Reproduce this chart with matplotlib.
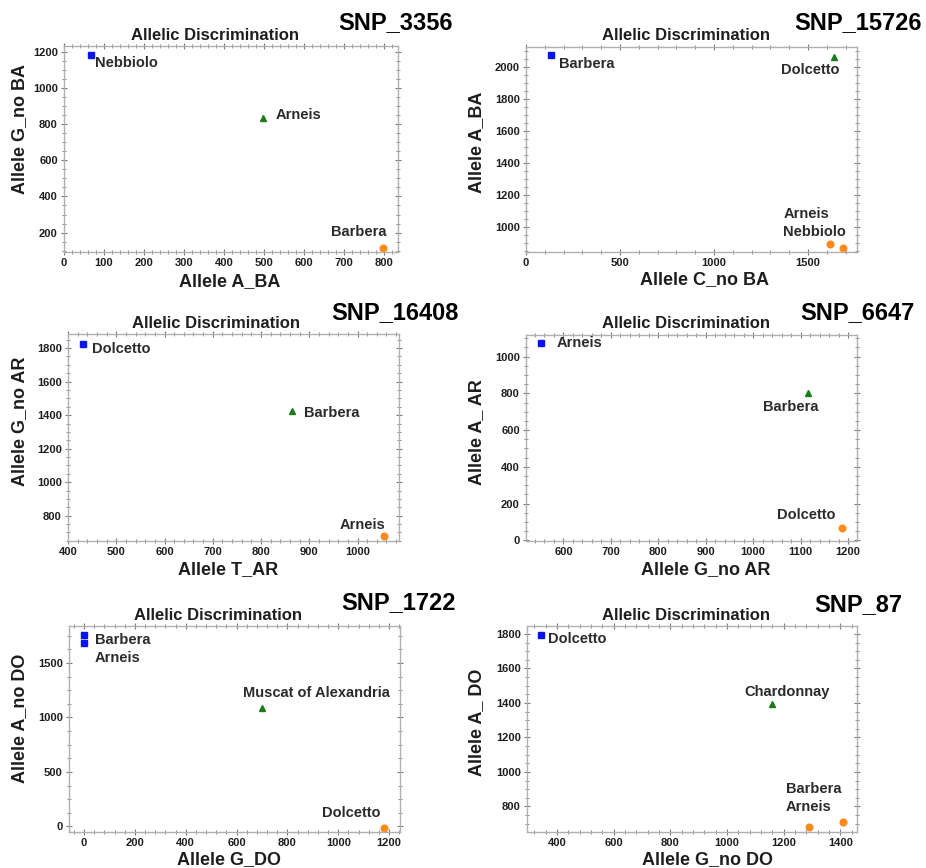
import matplotlib
matplotlib.use("Agg")
import matplotlib.pyplot as plt
from matplotlib.ticker import MultipleLocator, AutoMinorLocator

plt.rcParams['font.family'] = ['Liberation Sans', 'DejaVu Sans']
plt.rcParams['font.weight'] = 'bold'

W, H = 926, 868

# allele signal per variety, one set of lists per SNP
# genotype class: 0 = allele Y homozygous (square), 1 = heterozygous (triangle), 2 = allele X homozygous (circle)
snp3356_x = [67, 498, 798]
snp3356_y = [1182, 835, 115]
snp3356_cls = [0, 1, 2]
snp3356_names = ['Nebbiolo', 'Arneis', 'Barbera']

snp15726_x = [131, 1636, 1619, 1686]
snp15726_y = [2073, 2062, 896, 867]
snp15726_cls = [0, 1, 2, 2]
snp15726_names = ['Barbera', 'Dolcetto', 'Arneis', 'Nebbiolo']

snp16408_x = [431, 865, 1055]
snp16408_y = [1827, 1427, 677]
snp16408_cls = [0, 1, 2]
snp16408_names = ['Dolcetto', 'Barbera', 'Arneis']

snp6647_x = [553, 1116, 1187]
snp6647_y = [1073, 804, 69]
snp6647_cls = [0, 1, 2]
snp6647_names = ['Arneis', 'Barbera', 'Dolcetto']

snp1722_x = [0, 0, 701, 1180]
snp1722_y = [1761, 1687, 1090, -18]
snp1722_cls = [0, 0, 1, 2]
snp1722_names = ['Barbera', 'Arneis', 'Muscat of Alexandria', 'Dolcetto']

snp87_x = [345, 1159, 1288, 1408]
snp87_y = [1792, 1394, 679, 710]
snp87_cls = [0, 1, 2, 2]
snp87_names = ['Dolcetto', 'Chardonnay', 'Barbera', 'Arneis']

snp_ids = ['SNP_3356', 'SNP_15726', 'SNP_16408', 'SNP_6647', 'SNP_1722', 'SNP_87']
x_titles = ['Allele A_BA', 'Allele C_no BA', 'Allele T_AR', 'Allele G_no AR', 'Allele G_DO', 'Allele G_no DO']
y_titles = ['Allele G_no BA', 'Allele A_BA', 'Allele G_no AR', 'Allele A_ AR', 'Allele A_no DO', 'Allele A_ DO']

panels = [
    (snp3356_x, snp3356_y, snp3356_cls, snp3356_names),
    (snp15726_x, snp15726_y, snp15726_cls, snp15726_names),
    (snp16408_x, snp16408_y, snp16408_cls, snp16408_names),
    (snp6647_x, snp6647_y, snp6647_cls, snp6647_names),
    (snp1722_x, snp1722_y, snp1722_cls, snp1722_names),
    (snp87_x, snp87_y, snp87_cls, snp87_names),
]

# layout (pixels): axes box left, top, right, bottom
boxes = [
    (64, 46, 398, 252),
    (526, 47, 857, 252),
    (68, 334, 399, 541),
    (526, 335, 857, 541),
    (69, 626, 400, 832),
    (527, 626, 857, 832),
]
xlims = [(0, 835), (0, 1761), (400, 1086), (521, 1219), (-59, 1243), (294, 1459)]
ylims = [(93, 1231), (844, 2125), (649, 1884), (-4, 1118), (-52, 1840), (652, 1846)]
xsteps = [100, 500, 100, 100, 200, 200]
ysteps = [200, 200, 200, 200, 500, 200]

# label offsets in pixels (dx, dy up) and alignment
label_offsets = [
    [(4, -8, 'left'), (12, 3, 'left'), (3, 16, 'right')],
    [(8, -9, 'left'), (-23, -13, 'center'), (-47, 30, 'left'), (-60, 16, 'left')],
    [(9, -5, 'left'), (12, -2, 'left'), (1, 11, 'right')],
    [(15, 0, 'left'), (-17, -14, 'center'), (-6, 13, 'right')],
    [(11, -5, 'left'), (11, -15, 'left'), (54, 15, 'center'), (-3, 15, 'right')],
    [(7, -4, 'left'), (15, 12, 'center'), (-23, 38, 'left'), (-57, 15, 'left')],
]
title_pos = [(215, 35), (686, 35), (216, 324), (686, 324), (218, 616), (686, 616)]
snp_pos = [(453, 23), (922, 23), (459, 313), (915, 313), (456, 603), (902, 605)]
xlabel_pos = [(230, 282), (705, 280), (228, 570), (706, 570), (229, 860), (708, 860)]
ylabel_pos = [(20, 129), (477, 142), (20, 421), (477, 432), (20, 718), (477, 722)]

markers = {0: ('s', '#0a14f0', 5.0), 1: ('^', '#1b7a1b', 4.5), 2: ('o', '#ff8a1c', 4.8)}
PX = 0.72  # points per pixel at 100 dpi

fig = plt.figure(figsize=(W / 100, H / 100), dpi=100)
fig.patch.set_facecolor('white')

for i, (xs, ys, cls, names) in enumerate(panels):
    l, t, r, b = boxes[i]
    ax = fig.add_axes([l / W, 1 - b / H, (r - l) / W, (b - t) / H])
    for x, y, c in zip(xs, ys, cls):
        m, col, ms = markers[c]
        ax.plot(x, y, marker=m, color=col, markersize=ms, linestyle='none')
    for (x, y, name), (dx, dy, ha) in zip(zip(xs, ys, names), label_offsets[i]):
        ax.annotate(name, (x, y), xytext=(dx * PX, dy * PX), textcoords='offset points',
                    ha=ha, va='center', fontsize=10.5, fontweight='bold', color='#2b2b2b')

    ax.set_xlim(*xlims[i])
    ax.set_ylim(*ylims[i])
    ax.xaxis.set_major_locator(MultipleLocator(xsteps[i]))
    ax.yaxis.set_major_locator(MultipleLocator(ysteps[i]))
    ax.xaxis.set_minor_locator(AutoMinorLocator(5))
    ax.yaxis.set_minor_locator(AutoMinorLocator(4))
    ax.tick_params(which='both', direction='inout', top=True, right=True, colors='#7a7a7a',
                   labelcolor='#1e1e1e', labelsize=8, pad=2)
    ax.tick_params(which='major', length=5, width=0.8)
    ax.tick_params(which='minor', length=3, width=0.6)
    for lab in ax.get_xticklabels() + ax.get_yticklabels():
        lab.set_fontweight('bold')
    for s in ax.spines.values():
        s.set_color('#b0b0b0')
        s.set_linewidth(1.0)

    xl, yl = xlabel_pos[i]
    fig.text(xl / W, 1 - yl / H, x_titles[i], ha='center', va='center',
             fontsize=13, fontweight='bold', color='#1e1e1e')
    yx, yy = ylabel_pos[i]
    fig.text(yx / W, 1 - yy / H, y_titles[i], ha='center', va='center', rotation=90,
             fontsize=13, fontweight='bold', color='#1e1e1e')
    tx, ty = title_pos[i]
    fig.text(tx / W, 1 - ty / H, 'Allelic Discrimination', ha='center', va='center',
             fontsize=12, fontweight='bold', color='#1e1e1e')
    sx, sy = snp_pos[i]
    fig.text(sx / W, 1 - sy / H, snp_ids[i], ha='right', va='center',
             fontsize=17, fontweight='bold', color='black')

fig.savefig('out.png', dpi=100)
